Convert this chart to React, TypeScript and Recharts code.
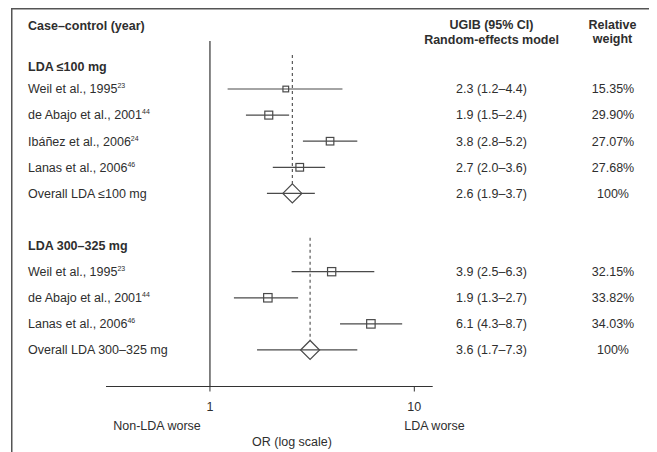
import React from "react";
import {
  ScatterChart,
  Scatter,
  XAxis,
  YAxis,
  ErrorBar,
  ReferenceLine,
} from "recharts";

// ---- data ----
const groupHeaders = ["LDA ≤100 mg", "LDA 300–325 mg"];
const headerRows = [0.15, 7];

const rowPos = [1, 2, 3, 4, 5, 8, 9, 10, 11];
const studyNames = [
  "Weil et al., 1995",
  "de Abajo et al., 2001",
  "Ibáñez et al., 2006",
  "Lanas et al., 2006",
  "Overall LDA ≤100 mg",
  "Weil et al., 1995",
  "de Abajo et al., 2001",
  "Lanas et al., 2006",
  "Overall LDA 300–325 mg",
];
const refNums = ["23", "44", "24", "46", "", "23", "44", "46", ""];
const orEst = [2.35, 1.94, 3.87, 2.75, 2.53, 3.94, 1.92, 6.13, 3.09];
const ciLow = [1.22, 1.5, 2.85, 2.03, 1.9, 2.51, 1.31, 4.33, 1.7];
const ciHigh = [4.45, 2.44, 5.26, 3.66, 3.26, 6.37, 2.7, 8.72, 5.26];
const ciText = [
  "2.3 (1.2–4.4)",
  "1.9 (1.5–2.4)",
  "3.8 (2.8–5.2)",
  "2.7 (2.0–3.6)",
  "2.6 (1.9–3.7)",
  "3.9 (2.5–6.3)",
  "1.9 (1.3–2.7)",
  "6.1 (4.3–8.7)",
  "3.6 (1.7–7.3)",
];
const weightText = [
  "15.35%",
  "29.90%",
  "27.07%",
  "27.68%",
  "100%",
  "32.15%",
  "33.82%",
  "34.03%",
  "100%",
];
const isOverall = [false, false, false, false, true, false, false, false, true];
const dashTop = [-0.3, 6.7];
const xTicks = [1, 10];

// ---- derived table ----
const data = rowPos.map((pos, i) => ({
  pos,
  est: orEst[i],
  err: [orEst[i] - ciLow[i], ciHigh[i] - orEst[i]],
  name: studyNames[i],
  ref: refNums[i],
  ci: ciText[i],
  weight: weightText[i],
  overall: isOverall[i],
}));
const overallRows = data.filter((d) => d.overall);

const FONT = "'Liberation Sans', Arial, Helvetica, sans-serif";
const TEXT = "#2e2e2e";
const LINE = "#4a4a4a";
const FS = 12.5;

const W = 649;
const H = 444;

const RowTick = (props: any) => {
  const { y, payload } = props;
  const v = payload.value;
  const hi = headerRows.indexOf(v);
  if (hi >= 0) {
    return (
      <text x={20} y={y} dy="0.35em" fontFamily={FONT} fontSize={FS} fontWeight="bold" fill={TEXT}>
        {groupHeaders[hi]}
      </text>
    );
  }
  const row = data.find((d) => d.pos === v);
  if (!row) return null;
  return (
    <g>
      <text x={20} y={y} dy="0.35em" fontFamily={FONT} fontSize={FS} fill={TEXT}>
        <tspan>{row.name}</tspan>
        {row.ref ? (
          <tspan fontSize={7} dy={-5}>
            {row.ref}
          </tspan>
        ) : null}
      </text>
      <text x={483.5} y={y} dy="0.35em" textAnchor="middle" fontFamily={FONT} fontSize={FS} fill={TEXT}>
        {row.ci}
      </text>
      <text x={605} y={y} dy="0.35em" textAnchor="middle" fontFamily={FONT} fontSize={FS} fill={TEXT}>
        {row.weight}
      </text>
    </g>
  );
};

const MarkShape = (props: any) => {
  const { cx, cy } = props;
  const p = props.payload ?? props;
  if (cx == null || cy == null) return null;
  if (p.overall) {
    const r = 9.5;
    return (
      <polygon
        points={`${cx - r},${cy} ${cx},${cy - r} ${cx + r},${cy} ${cx},${cy + r}`}
        fill="none"
        stroke={LINE}
        strokeWidth={1.2}
      />
    );
  }
  const s = Math.sqrt(parseFloat(p.weight)) * 1.45;
  return (
    <rect
      x={cx - s / 2}
      y={cy - s / 2}
      width={s}
      height={s}
      fill="none"
      stroke={LINE}
      strokeWidth={1.2}
    />
  );
};

export default function App() {
  return (
    <div style={{ position: "relative", width: W, height: H, overflow: "hidden" }}>
      <ScatterChart
        width={W}
        height={H}
        margin={{ top: 33, right: 224.3, bottom: 35.5, left: 8 }}
      >
        <XAxis
          type="number"
          dataKey="est"
          scale="log"
          domain={[0.31, 12.3]}
          allowDataOverflow
          ticks={xTicks}
          interval={0}
          height={30}
          tickSize={5}
          tickMargin={11}
          axisLine={{ stroke: "#333", strokeWidth: 1.2 }}
          tickLine={{ stroke: "#333" }}
          tick={{ fill: TEXT, fontSize: FS, fontFamily: FONT }}
        />
        <YAxis
          type="number"
          dataKey="pos"
          domain={[-0.84, 12.4]}
          reversed
          allowDataOverflow
          ticks={[...headerRows, ...rowPos]}
          interval={0}
          width={90}
          axisLine={false}
          tickLine={false}
          tick={<RowTick />}
        />
        <ReferenceLine x={1} stroke="#333" strokeWidth={1.2} />
        {overallRows.map((o, i) => (
          <ReferenceLine
            key={i}
            segment={[
              { x: o.est, y: dashTop[i] },
              { x: o.est, y: o.pos - 0.37 },
            ]}
            stroke={LINE}
            strokeWidth={1.1}
            strokeDasharray="3 3"
            ifOverflow="visible"
          />
        ))}
        <Scatter data={data} isAnimationActive={false} shape={<MarkShape />}>
          <ErrorBar dataKey="err" direction="x" width={0} stroke={LINE} strokeWidth={1.2} />
        </Scatter>
      </ScatterChart>
      <svg
        width={W}
        height={H}
        style={{ position: "absolute", left: 0, top: 0, pointerEvents: "none" }}
      >
        <rect x={3.75} y={0.75} width={640} height={480} fill="none" stroke="#555" strokeWidth={1.5} />
        <g fontFamily={FONT} fontSize={FS} fill={TEXT}>
          <text x={20} y={18} dy="0.35em" fontWeight="bold">
            Case–control (year)
          </text>
          <text x={483.5} y={17} dy="0.35em" fontWeight="bold" textAnchor="middle">
            UGIB (95% CI)
          </text>
          <text x={483.5} y={32} dy="0.35em" fontWeight="bold" textAnchor="middle">
            Random-effects model
          </text>
          <text x={604.5} y={17} dy="0.35em" fontWeight="bold" textAnchor="middle">
            Relative
          </text>
          <text x={604.5} y={31} dy="0.35em" fontWeight="bold" textAnchor="middle">
            weight
          </text>
          <text x={149} y={418} dy="0.35em" textAnchor="middle">
            Non-LDA worse
          </text>
          <text x={426.5} y={418} dy="0.35em" textAnchor="middle">
            LDA worse
          </text>
          <text x={284} y={434} dy="0.35em" textAnchor="middle">
            OR (log scale)
          </text>
        </g>
      </svg>
    </div>
  );
}
